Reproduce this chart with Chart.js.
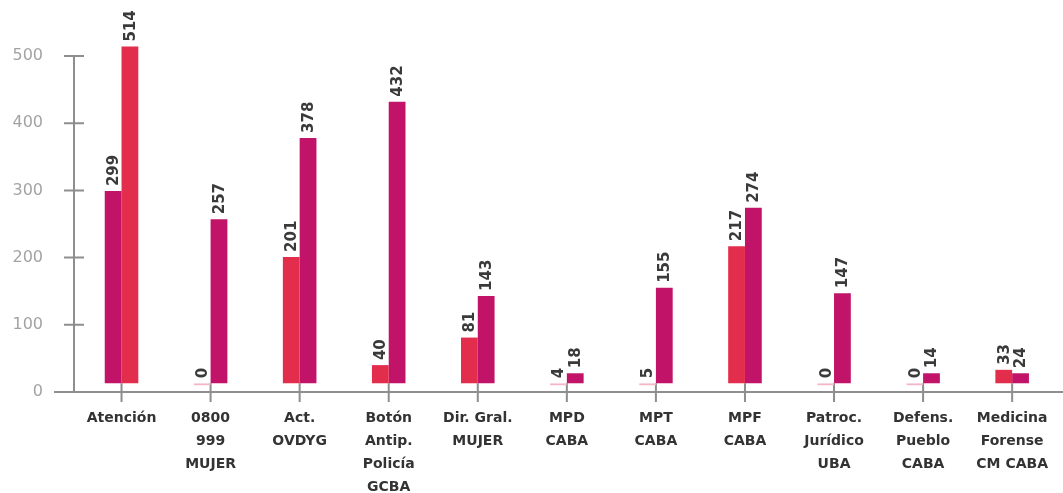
<!DOCTYPE html>
<html>
<head>
<meta charset="utf-8">
<script src="https://cdn.jsdelivr.net/npm/chart.js@4"></script>
<style>
html, body { margin: 0; padding: 0; background: #fff; overflow: hidden; }
#wrap { width: 1063px; height: 493px; }
</style>
</head>
<body>
<div id="wrap"><canvas id="chart" width="1063" height="493"></canvas></div>
<script>
// DATA -----------------------------------------------------------------------

const categories = [
    'Atención',
    ['0800', '999', 'MUJER'],
    ['Act.', 'OVDYG'],
    ['Botón', 'Antip.', 'Policía', 'GCBA'],
    ['Dir. Gral.', 'MUJER'],
    ['MPD', 'CABA'],
    ['MPT', 'CABA'],
    ['MPF', 'CABA'],
    ['Patroc.', 'Jurídico', 'UBA'],
    ['Defens.', 'Pueblo', 'CABA'],
    ['Medicina', 'Forense', 'CM CABA']
];
const leftValues = [299, 0, 201, 40, 81, 4, 5, 217, 0, 0, 33];
const rightValues = [514, 257, 378, 432, 143, 18, 155, 274, 147, 14, 24];
const yTickValues = [0, 100, 200, 300, 400, 500];

// STYLE ----------------------------------------------------------------------

const RED = '#e32d4d';
const MAGENTA = '#c11469';
const PALE = '#f5b7c7';
const AXIS = '#8e8e8e';
const BAR_BASE = 13;   // bars sit a little above the zero line

// first group has its colours swapped in the original
function barFill(firstColor, otherColor) {
    return ctx => {
        if (ctx.raw < BAR_BASE) return 'rgba(0,0,0,0)';
        return ctx.dataIndex === 0 ? firstColor : otherColor;
    };
}

function barBorder(ctx) {
    return ctx.raw < BAR_BASE ? {top: 2, right: 0, bottom: 0, left: 0} : 0;
}

// hand drawn axes with ticks crossing the axis line
const axisMarks = {
    id: 'axisMarks',
    beforeDatasetsDraw(chart) {
        const {ctx, chartArea, scales: {x, y}} = chart;
        const axisX = chartArea.left - 3;
        const zeroY = y.getPixelForValue(0);
        const baseY = y.getPixelForValue(BAR_BASE);
        ctx.save();
        ctx.strokeStyle = AXIS;
        ctx.lineWidth = 2;
        ctx.beginPath();
        ctx.moveTo(axisX, y.getPixelForValue(yTickValues[yTickValues.length - 1]));
        ctx.lineTo(axisX, zeroY);
        yTickValues.forEach(v => {
            const py = y.getPixelForValue(v);
            ctx.moveTo(axisX - 10, py);
            ctx.lineTo(axisX + 10, py);
        });
        ctx.moveTo(axisX - 20, zeroY);
        ctx.lineTo(chart.width, zeroY);
        x.ticks.forEach((t, i) => {
            const px = x.getPixelForTick(i);
            ctx.moveTo(px, baseY);
            ctx.lineTo(px, zeroY + 10);
        });
        ctx.stroke();
        ctx.restore();
    }
};

// rotated value labels on top of each bar
const valueLabels = {
    id: 'valueLabels',
    afterDatasetsDraw(chart) {
        const ctx = chart.ctx;
        ctx.save();
        ctx.font = 'bold 15px "DejaVu Sans"';
        ctx.fillStyle = '#3a3a3a';
        ctx.textAlign = 'left';
        ctx.textBaseline = 'middle';
        chart.data.datasets.forEach((ds, di) => {
            chart.getDatasetMeta(di).data.forEach((bar, i) => {
                const top = Math.min(bar.y, bar.base);
                ctx.save();
                ctx.translate(bar.x, top - 5);
                ctx.rotate(-Math.PI / 2);
                ctx.fillText(String(ds.data[i]), 0, 1);
                ctx.restore();
            });
        });
        ctx.restore();
    }
};

// CHART ----------------------------------------------------------------------

new Chart(document.getElementById('chart').getContext('2d'), {
    type: 'bar',
    data: {
        labels: categories,
        datasets: [{
            label: 'A',
            data: leftValues,
            backgroundColor: barFill(MAGENTA, RED),
            borderColor: PALE,
            borderWidth: barBorder,
            borderSkipped: false,
            base: BAR_BASE,
            minBarLength: 10,
            categoryPercentage: 0.377,
            barPercentage: 1.0,
            clip: false
        }, {
            label: 'B',
            data: rightValues,
            backgroundColor: barFill(RED, MAGENTA),
            borderColor: PALE,
            borderWidth: barBorder,
            borderSkipped: false,
            base: BAR_BASE,
            minBarLength: 10,
            categoryPercentage: 0.377,
            barPercentage: 1.0,
            clip: false
        }]
    },
    options: {
        responsive: false,
        animation: false,
        devicePixelRatio: 1,
        layout: {
            padding: {top: 56, right: -7, bottom: 0, left: 0}
        },
        scales: {
            x: {
                offset: true,
                grid: {display: false, drawTicks: false},
                border: {display: false},
                ticks: {
                    color: '#333333',
                    font: {family: 'DejaVu Sans', size: 14, weight: 'bold', lineHeight: 1.65},
                    padding: 15,
                    maxRotation: 0,
                    autoSkip: false
                },
                afterFit: s => { s.height = 101; }
            },
            y: {
                min: 0,
                max: 500,
                grid: {display: false, drawTicks: false},
                border: {display: false},
                ticks: {
                    stepSize: 100,
                    color: '#a3a3a3',
                    font: {family: 'DejaVu Sans', size: 16},
                    padding: 34
                },
                afterFit: s => { s.width = 77; }
            }
        },
        plugins: {
            legend: {display: false},
            tooltip: {enabled: false}
        }
    },
    plugins: [axisMarks, valueLabels]
});
</script>
</body>
</html>
